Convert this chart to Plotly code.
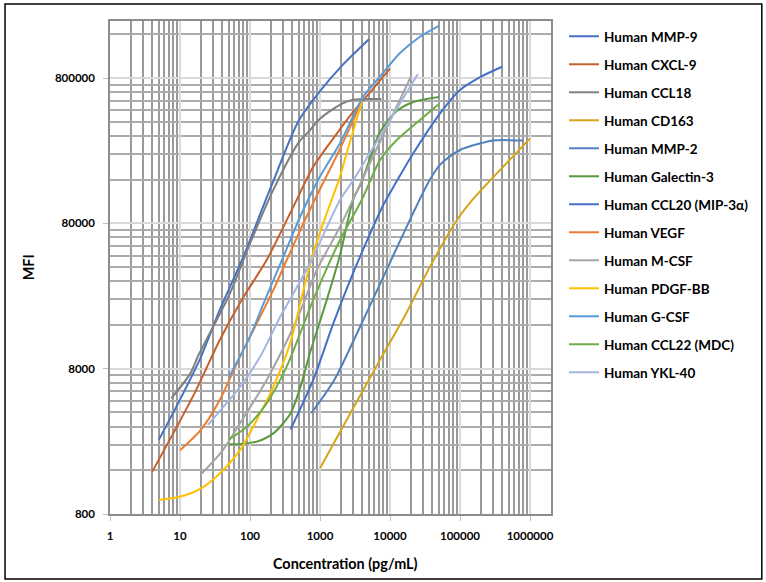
import plotly.graph_objects as go

# ---------------- data ----------------
names = ["Human MMP-9", "Human CXCL-9", "Human CCL18", "Human CD163", "Human MMP-2",
         "Human Galectin-3", "Human CCL20 (MIP-3α)", "Human VEGF", "Human M-CSF",
         "Human PDGF-BB", "Human G-CSF", "Human CCL22 (MDC)", "Human YKL-40"]

mmp9_x = [5, 10, 20, 37, 80, 200, 500, 1000, 2000, 5000]
mmp9_y = [2600, 4900, 9700, 20300, 47000, 143000, 410000, 650000, 960000, 1480000]

cxcl9_x = [4, 8, 17, 37, 76, 173, 415, 800, 1550, 3000, 4600, 10000]
cxcl9_y = [1560, 2870, 5700, 12600, 23800, 44800, 104000, 196000, 308000, 470000, 596000, 934000]

ccl18_x = [7.5, 14, 18, 50, 100, 215, 500, 720, 1000, 2000, 3000, 7500]
ccl18_y = [5000, 7400, 9700, 25500, 58000, 136000, 290000, 351000, 420000, 530000, 568000, 574000]

cd163_x = [1000, 2400, 7200, 17000, 37000, 90000, 150000, 300000, 600000, 1000000]
cd163_y = [1650, 3550, 9200, 19200, 40000, 84000, 116000, 167000, 237000, 308000]

mmp2_x = [750, 1600, 3000, 5000, 10000, 20000, 35000, 52000, 100000, 200000, 300000, 800000]
mmp2_y = [3950, 6700, 12400, 21000, 43000, 88000, 152000, 203000, 256000, 285000, 298000, 297000]

gal3_x = [50, 75, 125, 215, 375, 520, 720, 1250, 1930, 3000, 3900, 5200, 7200, 12500, 21500, 50000]
gal3_y = [2420, 2430, 2520, 2870, 3900, 5900, 10300, 23800, 48500, 118000, 152000, 225000,
          340000, 475000, 548000, 593000]

ccl20_x = [380, 800, 1550, 2700, 5200, 8000, 12000, 21500, 52000, 100000, 200000, 400000]
ccl20_y = [3060, 6700, 16400, 32600, 68000, 107000, 151000, 243000, 458000, 662000, 818000, 957000]

vegf_x = [10, 20, 37, 72, 125, 215, 335, 580, 1100, 1900, 4000]
vegf_y = [2200, 3050, 4870, 9700, 16400, 27800, 44800, 80000, 151000, 256000, 560000]

mcsf_x = [20, 41, 72, 173, 464, 900, 1930, 6000, 20400]
mcsf_y = [1500, 2200, 3370, 6700, 17300, 38200, 75900, 242000, 840000]

pdgf_x = [5, 10, 20, 37, 72, 125, 215, 375, 580, 800, 1250, 1930, 2400, 4000]
pdgf_y = [1000, 1050, 1200, 1520, 2200, 3550, 6000, 12000, 27800, 50000, 94000, 168000, 243000, 560000]

gcsf_x = [50, 100, 164, 300, 520, 1000, 1930, 4160, 7200, 13900, 26800, 50000]
gcsf_y = [7000, 13300, 23800, 47200, 88900, 168000, 285000, 596000, 818000, 1190000, 1540000, 1830000]

ccl22_x = [50, 90, 173, 334, 520, 800, 1930, 3940, 7200, 12500, 26800, 50000]
ccl22_y = [2610, 3190, 4620, 8260, 14000, 23800, 61500, 116000, 218000, 300000, 412000, 531000]

ykl40_x = [25, 42, 72, 140, 270, 370, 720, 1930, 3000, 8500, 25000]
ykl40_y = [3280, 4380, 6000, 9700, 18200, 23800, 42500, 116000, 159000, 363000, 853000]

x_tick_vals = [1, 10, 100, 1000, 10000, 100000, 1000000]
x_tick_text = ["1", "10", "100", "1000", "10000", "100000", "1000000"]
y_tick_vals = [800, 8000, 80000, 800000]
y_tick_text = ["800", "8000", "80000", "800000"]

colors = ["#4472C4", "#C8602A", "#7F7F7F", "#D6A419", "#4F81BD", "#5A9A3E", "#4370C8",
          "#ED7D31", "#A5A5A5", "#FFC000", "#5B9BD5", "#70AD47", "#A4B6E0"]

xs_all = [mmp9_x, cxcl9_x, ccl18_x, cd163_x, mmp2_x, gal3_x, ccl20_x, vegf_x, mcsf_x,
          pdgf_x, gcsf_x, ccl22_x, ykl40_x]
ys_all = [mmp9_y, cxcl9_y, ccl18_y, cd163_y, mmp2_y, gal3_y, ccl20_y, vegf_y, mcsf_y,
          pdgf_y, gcsf_y, ccl22_y, ykl40_y]

# ---------------- figure ----------------
fig = go.Figure()
for name, xs, ys, c in zip(names, xs_all, ys_all, colors):
    fig.add_trace(go.Scatter(x=xs, y=ys, mode="lines", name=name, legendgroup=name,
                             line=dict(color=c, width=2, shape="spline", smoothing=0.8)))

x_minor = [k * 10 ** d for d in range(0, 7) for k in range(2, 10) if k * 10 ** d <= 2000000]
y_minor = [k * 800 * 10 ** d for d in range(0, 4) for k in range(2, 10) if k * 800 * 10 ** d <= 1990000]

tickfont = dict(family="Lato", size=11.5, color="black", weight="bold")
titlefont = dict(family="Lato", size=14.4, color="black", weight="bold")

fig.update_layout(
    width=766, height=582,
    margin=dict(l=110, r=215, t=21, b=68, autoexpand=False),
    paper_bgcolor="white", plot_bgcolor="white",
    showlegend=True,
    legend=dict(x=1.0295, y=1.0, xanchor="left", yanchor="top",
                font=dict(family="Lato", size=13.5, color="black", weight="bold"),
                tracegroupgap=7.45, bgcolor="rgba(0,0,0,0)", traceorder="grouped"),
    xaxis=dict(type="log", range=[0, 6.3], tickmode="array", tickvals=x_tick_vals,
               ticktext=x_tick_text, tickfont=tickfont,
               showgrid=True, gridcolor="#D9D9D9", gridwidth=2,
               minor=dict(tickmode="array", tickvals=x_minor, showgrid=True,
                          gridcolor="#9A9A9A", gridwidth=1.5, ticks=""),
               ticks="outside", ticklen=5, tickcolor="#BFBFBF",
               showline=True, mirror=True, linecolor="#8C8C8C", linewidth=1.5,
               zeroline=False, ticklabelstandoff=5),
    yaxis=dict(type="log", range=[2.90309, 6.296], tickmode="array", tickvals=y_tick_vals,
               ticktext=y_tick_text, tickfont=tickfont,
               showgrid=True, gridcolor="#D9D9D9", gridwidth=2,
               minor=dict(tickmode="array", tickvals=y_minor, showgrid=True,
                          gridcolor="#ABABAB", gridwidth=1.5, ticks=""),
               ticks="outside", ticklen=5, tickcolor="#BFBFBF",
               showline=True, mirror=True, linecolor="#8C8C8C", linewidth=1.5,
               zeroline=False, ticklabelstandoff=6),
    annotations=[
        dict(text="Concentration (pg/mL)", x=0.533, y=-0.0994, xref="paper", yref="paper",
             showarrow=False, xanchor="center", yanchor="middle", font=titlefont),
        dict(text="MFI", x=-0.184, y=0.5, xref="paper", yref="paper", textangle=-90,
             showarrow=False, xanchor="center", yanchor="middle", font=titlefont),
    ],
    shapes=[
        dict(type="rect", xref="paper", yref="paper", x0=-0.238, x1=1.478, y0=-0.132, y1=1.0345,
             line=dict(color="black", width=1.5), fillcolor="rgba(0,0,0,0)", layer="above"),
    ],
)

fig.write_html("out.html", config={"displayModeBar": False},
               post_script="document.body.style.margin='0px';")
